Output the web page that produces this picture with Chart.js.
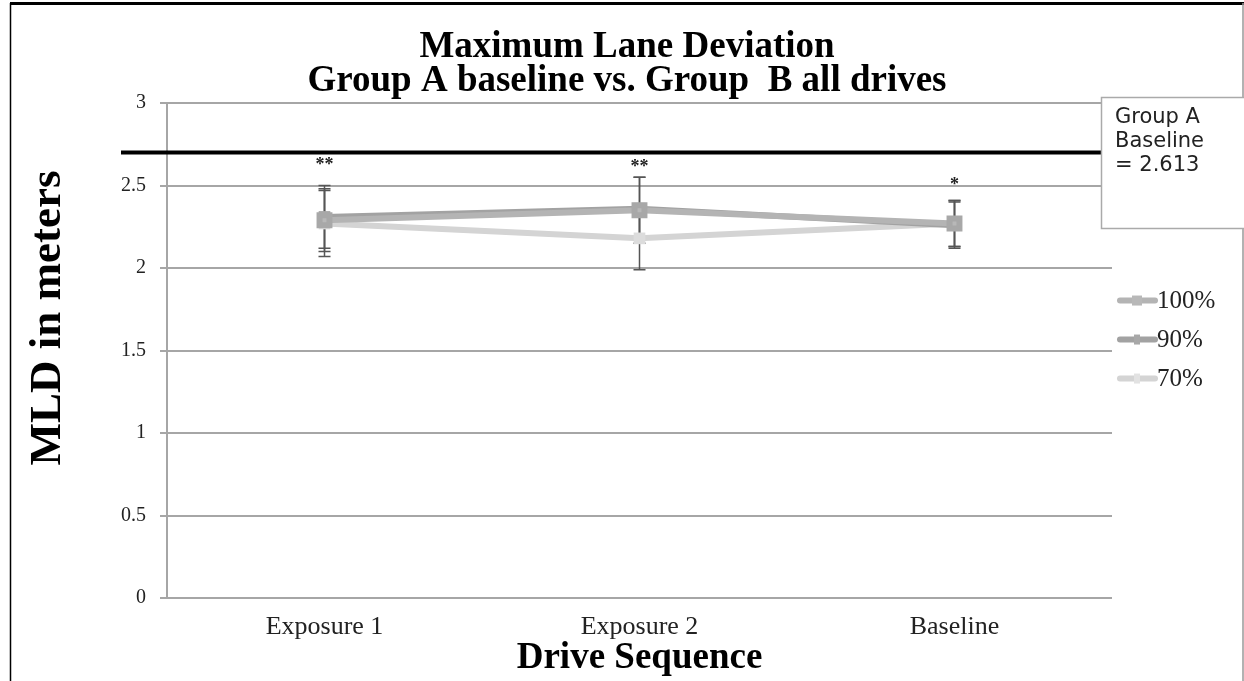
<!DOCTYPE html>
<html>
<head>
<meta charset="utf-8">
<title>Maximum Lane Deviation</title>
<script src="https://cdn.jsdelivr.net/npm/chart.js@4/dist/chart.umd.min.js"></script>
<style>
  html, body { margin: 0; padding: 0; background: #fff; }
  #wrap { width: 1244px; height: 681px; }
</style>
</head>
<body>
<div id="wrap"><canvas id="myChart" width="1244" height="681"></canvas></div>
<script>
/* Data */
const categories = ['Exposure 1', 'Exposure 2', 'Baseline'];
const mld100 = [2.29, 2.35, 2.27];
const mld90 = [2.31, 2.36, 2.26];
const mld70 = [2.27, 2.18, 2.27];
const err100 = [0.19, 0.20, 0.14];
const err90 = [0.19, 0.19, 0.14];
const err70 = [0.20, 0.19, 0.14];
const stars = ['**', '**', '*'];
const starLevel = [2.62, 2.61, 2.50];
const baselineLevel = 2.7;
const baselineNote = ['Group A', 'Baseline', '= 2.613'];
const yTicks = [0, 0.5, 1, 1.5, 2, 2.5, 3];
const yTitle = 'MLD in meters';

const serif = '"Liberation Serif", "Times New Roman", serif';

/* frame, reference line, stars, note box, legend, y title */
const extrasPlugin = {
  id: 'extras',
  beforeDraw(chart) {
    const ctx = chart.ctx;
    ctx.save();
    ctx.fillStyle = '#fff';
    ctx.fillRect(0, 0, chart.width, chart.height);
    ctx.strokeStyle = '#000';
    ctx.lineWidth = 3;
    ctx.beginPath();
    ctx.moveTo(10, 3.5);
    ctx.lineTo(1244, 3.5);
    ctx.stroke();
    ctx.lineWidth = 1.5;
    ctx.beginPath();
    ctx.moveTo(10.5, 3);
    ctx.lineTo(10.5, 681);
    ctx.stroke();
    ctx.strokeStyle = '#999';
    ctx.beginPath();
    ctx.moveTo(1243, 3);
    ctx.lineTo(1243, 681);
    ctx.stroke();
    ctx.restore();
  },
  beforeDatasetsDraw(chart) {
    const ctx = chart.ctx;
    const x = chart.scales.x;
    const y = chart.scales.y;
    ctx.save();
    // black reference line
    const yRef = y.getPixelForValue(baselineLevel);
    ctx.strokeStyle = '#000';
    ctx.lineWidth = 4;
    ctx.beginPath();
    ctx.moveTo(121, yRef);
    ctx.lineTo(1244, yRef);
    ctx.stroke();
    // error bars
    const sets = [[mld100, err100], [mld90, err90], [mld70, err70]];
    ctx.strokeStyle = '#555';
    ctx.lineWidth = 1.5;
    sets.forEach(([vals, errs]) => {
      vals.forEach((v, i) => {
        const px = x.getPixelForValue(i);
        const top = y.getPixelForValue(v + errs[i]);
        const bot = y.getPixelForValue(v - errs[i]);
        ctx.beginPath();
        ctx.moveTo(px, top);
        ctx.lineTo(px, bot);
        ctx.moveTo(px - 6, top);
        ctx.lineTo(px + 6, top);
        ctx.moveTo(px - 6, bot);
        ctx.lineTo(px + 6, bot);
        ctx.stroke();
      });
    });
    // significance stars
    ctx.fillStyle = '#222';
    ctx.font = 'bold 18px ' + serif;
    ctx.textAlign = 'center';
    ctx.textBaseline = 'middle';
    stars.forEach((s, i) => {
      ctx.fillText(s, x.getPixelForValue(i), y.getPixelForValue(starLevel[i]));
    });
    ctx.restore();
  },
  afterDraw(chart) {
    const ctx = chart.ctx;
    const area = chart.chartArea;
    ctx.save();
    // note box
    ctx.fillStyle = '#fff';
    ctx.strokeStyle = '#aaa';
    ctx.lineWidth = 1.5;
    ctx.fillRect(1101, 97, 150, 132);
    ctx.strokeRect(1101.5, 97.5, 150, 131);
    ctx.fillStyle = '#222';
    ctx.font = '21px "DejaVu Sans", Verdana, sans-serif';
    ctx.textBaseline = 'middle';
    baselineNote.forEach((t, i) => ctx.fillText(t, 1115, 118 + i * 24));

    // legend
    const midY = (area.top + area.bottom) / 2 - 11;
    const x0 = area.right + 5;
    ctx.font = '25px ' + serif;
    chart.data.datasets.forEach((ds, i) => {
      const cy = midY + (i - 1) * 39;
      ctx.strokeStyle = ds.borderColor;
      ctx.lineWidth = 6;
      ctx.lineCap = 'round';
      ctx.beginPath();
      ctx.moveTo(x0 + 3, cy);
      ctx.lineTo(x0 + 38, cy);
      ctx.stroke();
      ctx.fillStyle = ds.pointBackgroundColor;
      const r = i === 0 ? 5 : 3;
      ctx.fillRect(x0 + 20 - r, cy - r - (i === 0 ? 0 : 2), r * 2, r * 2 + (i === 0 ? 0 : 4));
      ctx.fillStyle = '#222';
      ctx.fillText(ds.label, x0 + 40, cy + 1);
    });

    // y axis title
    ctx.translate(48, 318);
    ctx.rotate(-Math.PI / 2);
    ctx.textAlign = 'center';
    ctx.fillStyle = '#000';
    ctx.font = 'bold 45px ' + serif;
    ctx.fillText(yTitle, 0, 0);
    ctx.restore();
  }
};

function initChart() {
  const ctx = document.getElementById('myChart').getContext('2d');

  // eslint-disable-next-line no-unused-vars
  const myChart = new Chart(ctx, {
    type: 'line',
    data: {
      labels: categories,
      datasets: [{
        label: '100%',
        data: mld100,
        borderColor: '#b4b4b4',
        backgroundColor: '#b4b4b4',
        borderWidth: 6,
        pointStyle: 'rect',
        pointRadius: 7,
        pointBorderColor: '#a8a8a8',
        pointBackgroundColor: '#b8b8b8',
      },
      {
        label: '90%',
        data: mld90,
        borderColor: '#a2a2a2',
        backgroundColor: '#a2a2a2',
        borderWidth: 6,
        pointStyle: 'rect',
        pointRadius: 4,
        pointBackgroundColor: '#a8a8a8',
        pointBorderColor: '#a8a8a8',
      },
      {
        label: '70%',
        data: mld70,
        borderColor: '#d4d4d4',
        backgroundColor: '#d4d4d4',
        borderWidth: 6,
        pointStyle: 'rect',
        pointRadius: 4,
        pointBackgroundColor: '#e2e2e2',
        pointBorderColor: '#dcdcdc',
      }]
    },
    options: {
      responsive: false,
      animation: false,
      layout: { padding: { left: 10, right: 0, top: 0, bottom: 0 } },
      plugins: {
        title: {
          display: true,
          text: ['Maximum Lane Deviation', 'Group A baseline vs. Group  B all drives'],
          color: '#000',
          font: { family: serif, size: 37, weight: 'bold', lineHeight: 0.92 },
          padding: { top: 30, bottom: 5 },
        },
        legend: { display: false },
        tooltip: { enabled: false },
      },
      scales: {
        x: {
          offset: true,
          grid: { display: false, drawTicks: false },
          border: { display: false },
          ticks: { color: '#222', font: { family: serif, size: 26 }, padding: 14 },
          title: {
            display: true,
            text: 'Drive Sequence',
            color: '#000',
            font: { family: serif, size: 37, weight: 'bold' },
            padding: { top: 0, bottom: 0 },
          },
          afterFit(scale) { scale.height = 83; },
        },
        y: {
          min: 0,
          max: 3,
          afterBuildTicks(scale) { scale.ticks = yTicks.map(v => ({ value: v })); },
          grid: { color: '#a6a6a6', lineWidth: 2, tickLength: 7, tickColor: '#a6a6a6' },
          border: { display: true, color: '#a6a6a6', width: 2 },
          ticks: {
            color: '#222',
            font: { family: serif, size: 20 },
            padding: 14,
            callback: (v) => String(v),
          },
          afterFit(scale) { scale.width = 157; },
        },
        // empty right-hand scale that keeps room for the legend
        legendSpace: {
          type: 'linear',
          position: 'right',
          min: 0,
          max: 3,
          grid: { display: false, drawOnChartArea: false },
          border: { display: false },
          ticks: { display: false },
          afterFit(scale) { scale.width = 132; },
        },
      },
    },
    plugins: [extrasPlugin],
  });
}

const app = () => {
  initChart();
};

app();
</script>
</body>
</html>
